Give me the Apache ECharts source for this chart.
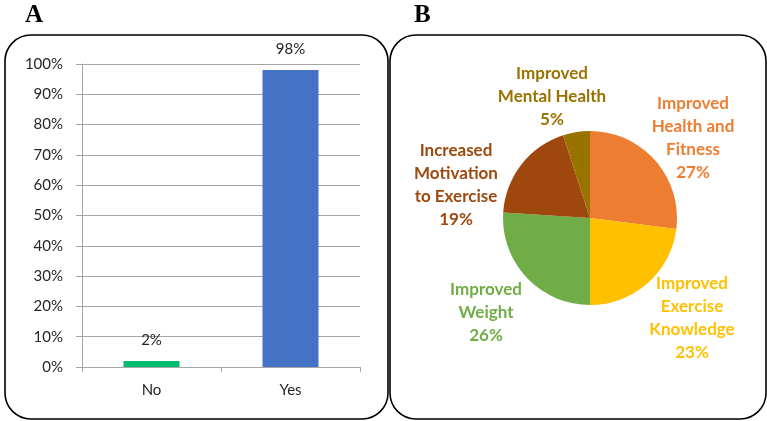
<!DOCTYPE html>
<html>
<head>
<meta charset="utf-8">
<script src="https://cdn.jsdelivr.net/npm/echarts@6/dist/echarts.min.js"></script>
<style>
  html, body { margin: 0; padding: 0; background: #fff; }
  #chart { width: 767px; height: 421px; }
</style>
</head>
<body>
<div id="chart"></div>
<script>
// Panel A: yes / no answers
const answerCategories = ['No', 'Yes'];
const answerValues = [2, 98];
const answerColors = ['#00BE6E', '#4472C4'];
const yTickLabels = ['0%', '10%', '20%', '30%', '40%', '50%', '60%', '70%', '80%', '90%', '100%'];

// Panel B: reported benefits
const benefitNames = [
  'Improved\nHealth and\nFitness',
  'Improved\nExercise\nKnowledge',
  'Improved\nWeight',
  'Increased\nMotivation\nto Exercise',
  'Improved\nMental Health'
];
const benefitValues = [27, 23, 26, 19, 5];
const benefitColors = ['#ED7D31', '#FFC000', '#70AD47', '#9E480E', '#997300'];

// Layout of the pie and its label anchors (offsets from the pie centre)
const pieCenter = [590, 218];
const labelAnchors = [[103, -80], [102, 100], [-104, 95], [-134, -33], [-38, -121]];

const chart = echarts.init(document.getElementById('chart'), null, { renderer: 'canvas' });

const textFont = 'Lato, "Open Sans", sans-serif';

chart.setOption({
  animation: false,
  backgroundColor: '#ffffff',
  graphic: [
    { type: 'rect', shape: { x: 5, y: 35, width: 383, height: 384, r: 26 },
      style: { fill: 'none', stroke: '#000', lineWidth: 1.6 }, z: 0 },
    { type: 'rect', shape: { x: 390, y: 35, width: 376, height: 384, r: 26 },
      style: { fill: 'none', stroke: '#000', lineWidth: 1.6 }, z: 0 },
    { type: 'text', left: 25, top: 3,
      style: { text: 'A', font: 'bold 25px "Liberation Serif", "Times New Roman", serif', fill: '#000' } },
    { type: 'text', left: 414, top: 3,
      style: { text: 'B', font: 'bold 25px "Liberation Serif", "Times New Roman", serif', fill: '#000' } }
  ],
  grid: { left: 82, top: 64, width: 278, height: 303, containLabel: false },
  xAxis: {
    type: 'category',
    data: answerCategories,
    axisLine: { lineStyle: { color: '#a6a6a6', width: 1 } },
    axisTick: { show: true, length: 5, lineStyle: { color: '#a6a6a6' } },
    axisLabel: { color: '#262626', fontSize: 15, fontFamily: textFont, margin: 16 }
  },
  yAxis: {
    type: 'value',
    min: 0, max: 100, interval: 10,
    axisLine: { show: true, lineStyle: { color: '#a6a6a6', width: 1 } },
    axisTick: { show: true, length: 6, lineStyle: { color: '#a6a6a6' } },
    splitLine: { lineStyle: { color: '#a6a6a6', width: 1 } },
    axisLabel: {
      color: '#262626', fontSize: 15, fontFamily: textFont, margin: 19,
      formatter: function (v) { return yTickLabels[Math.round(v / 10)]; }
    }
  },
  series: [
    {
      type: 'bar',
      barWidth: 56,
      data: answerValues.map(function (v, i) {
        return { value: v, itemStyle: { color: answerColors[i] } };
      }),
      label: {
        show: true, position: 'top', distance: 13,
        color: '#262626', fontSize: 15, fontFamily: textFont,
        formatter: '{c}%'
      }
    },
    {
      type: 'pie',
      center: pieCenter,
      radius: 87,
      startAngle: 90,
      clockwise: true,
      data: benefitNames.map(function (n, i) {
        return {
          name: n, value: benefitValues[i],
          itemStyle: { color: benefitColors[i] },
          label: { color: benefitColors[i] }
        };
      }),
      itemStyle: { borderWidth: 0 },
      label: {
        show: true, position: 'outside', alignTo: 'none',
        overflow: 'none', width: 200,
        fontFamily: textFont, fontWeight: 'bold', fontSize: 17, lineHeight: 23,
        align: 'center',
        formatter: '{b}\n{c}%'
      },
      labelLine: { show: false },
      labelLayout: function (params) {
        const a = labelAnchors[params.dataIndex];
        return {
          x: pieCenter[0] + a[0],
          y: pieCenter[1] + a[1],
          align: 'center',
          verticalAlign: 'middle'
        };
      }
    }
  ]
});
</script>
</body>
</html>
